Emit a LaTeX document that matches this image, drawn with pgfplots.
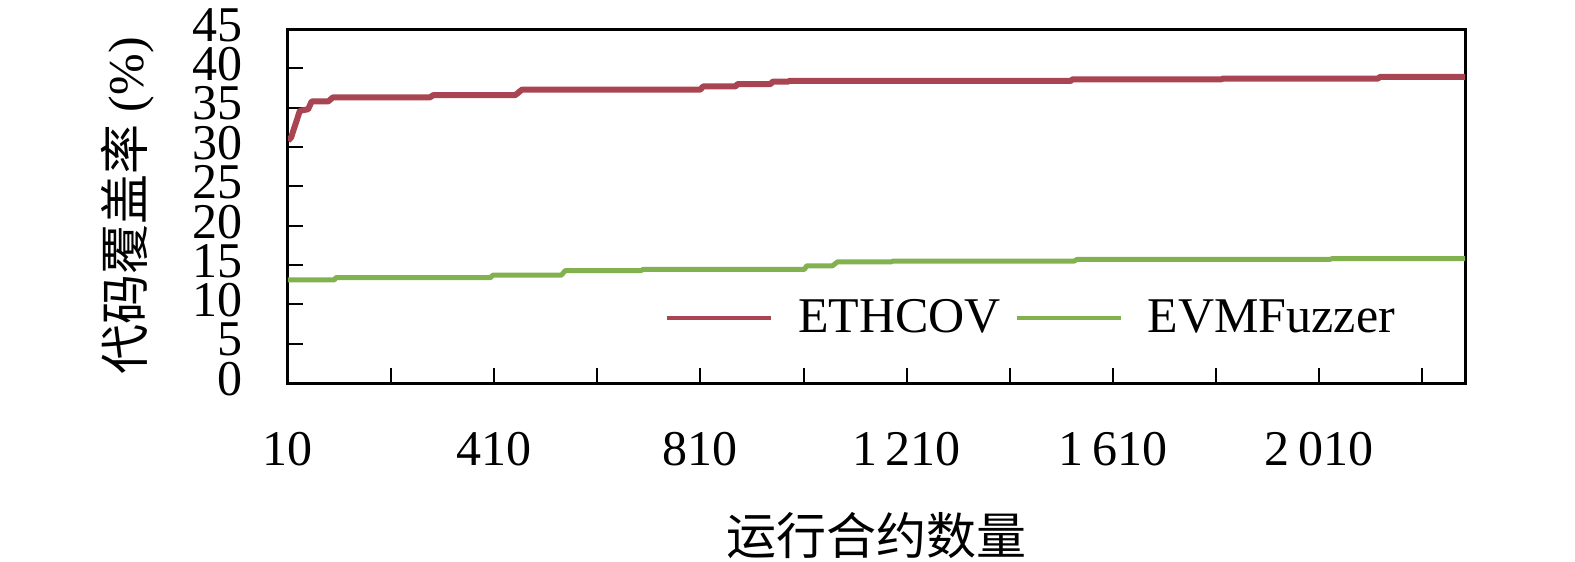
\documentclass[border=0pt]{standalone}
\usepackage{fontspec}
\setmainfont{Liberation Serif}
\newfontfamily\cjk{Noto Sans CJK SC}
\usepackage{pgfplots}
\pgfplotsset{compat=1.18}
\definecolor{ethred}{HTML}{A94452}
\definecolor{evmgreen}{HTML}{82B150}
\newcommand{\bigfont}{\fontsize{25pt}{30pt}\selectfont}
\begin{document}
\begin{tikzpicture}
\useasboundingbox (-144pt,-89.5pt) rectangle (643.5pt,191.5pt);
\begin{axis}[
  at={(0,0)}, anchor=south west,
  scale only axis, width=588.5pt, height=177pt,
  xmin=10, xmax=2293, ymin=0, ymax=45,
  xtick={10,410,810,1210,1610,2010},
  xticklabels={10,410,810,1\,210,1\,610,2\,010},
  minor xtick={210,610,1010,1410,1810,2210},
  ytick={0,5,...,45},
  tick align=inside, xtick pos=bottom, ytick pos=left,
  major tick length=7.5pt, minor tick length=7.5pt,
  tick style={black, line width=1pt},
  minor tick style={black, line width=1pt},
  axis line style={line width=1.5pt},
  /pgf/number format/assume math mode=true,
  tick label style={font=\bigfont, inner sep=0pt},
  yticklabel style={xshift=-22.5pt, yshift=2pt},
  xticklabel style={yshift=-24.5pt},
  label style={font=\bigfont},
  xlabel={\cjk 运行合约数量},
  xlabel style={at={(axis description cs:0.5,-0.43)}, anchor=center},
  ylabel={{\cjk 代码覆盖率} (\%)},
  ylabel style={at={(axis description cs:-0.136,0.5)}, anchor=center},
  legend style={draw=none, fill=none, font=\bigfont,
    at={(axis description cs:0.320,0.184)}, anchor=west,
    inner sep=0pt, legend columns=-1,
    /tikz/every even column/.append style={column sep=5pt},
    /tikz/every odd column/.append style={column sep=10.5pt}},
  legend image code/.code={\draw[#1, line width=2pt] (0pt,0pt) -- (52pt,0pt);},
]
\addplot[ethred, line width=3pt, line join=round] coordinates {
(10,30.8) (16,31.2) (33,34.6) (49,34.8) (56,35.8) (88,35.8) (97,36.3)
(285,36.3) (292,36.6) (451,36.6) (464,37.3) (810,37.3) (815,37.7)
(878,37.7) (882,38.0) (946,38.0) (950,38.3) (979,38.3) (983,38.4)
(1528,38.4) (1532,38.6) (1820,38.6) (1824,38.7) (2124,38.7) (2128,38.9)
(2293,38.9)
};
\addlegendentry{ETHCOV}
\addplot[evmgreen, line width=2.5pt, line join=round] coordinates {
(10,13.1) (100,13.1) (103,13.4) (403,13.4) (407,13.7) (540,13.7)
(548,14.3) (695,14.3) (699,14.45) (1012,14.45) (1016,14.9) (1066,14.9)
(1076,15.4) (1180,15.4) (1184,15.5) (1535,15.5) (1540,15.7)
(2030,15.7) (2035,15.8) (2293,15.8)
};
\addlegendentry{EVMFuzzer}
\end{axis}
\end{tikzpicture}
\end{document}
